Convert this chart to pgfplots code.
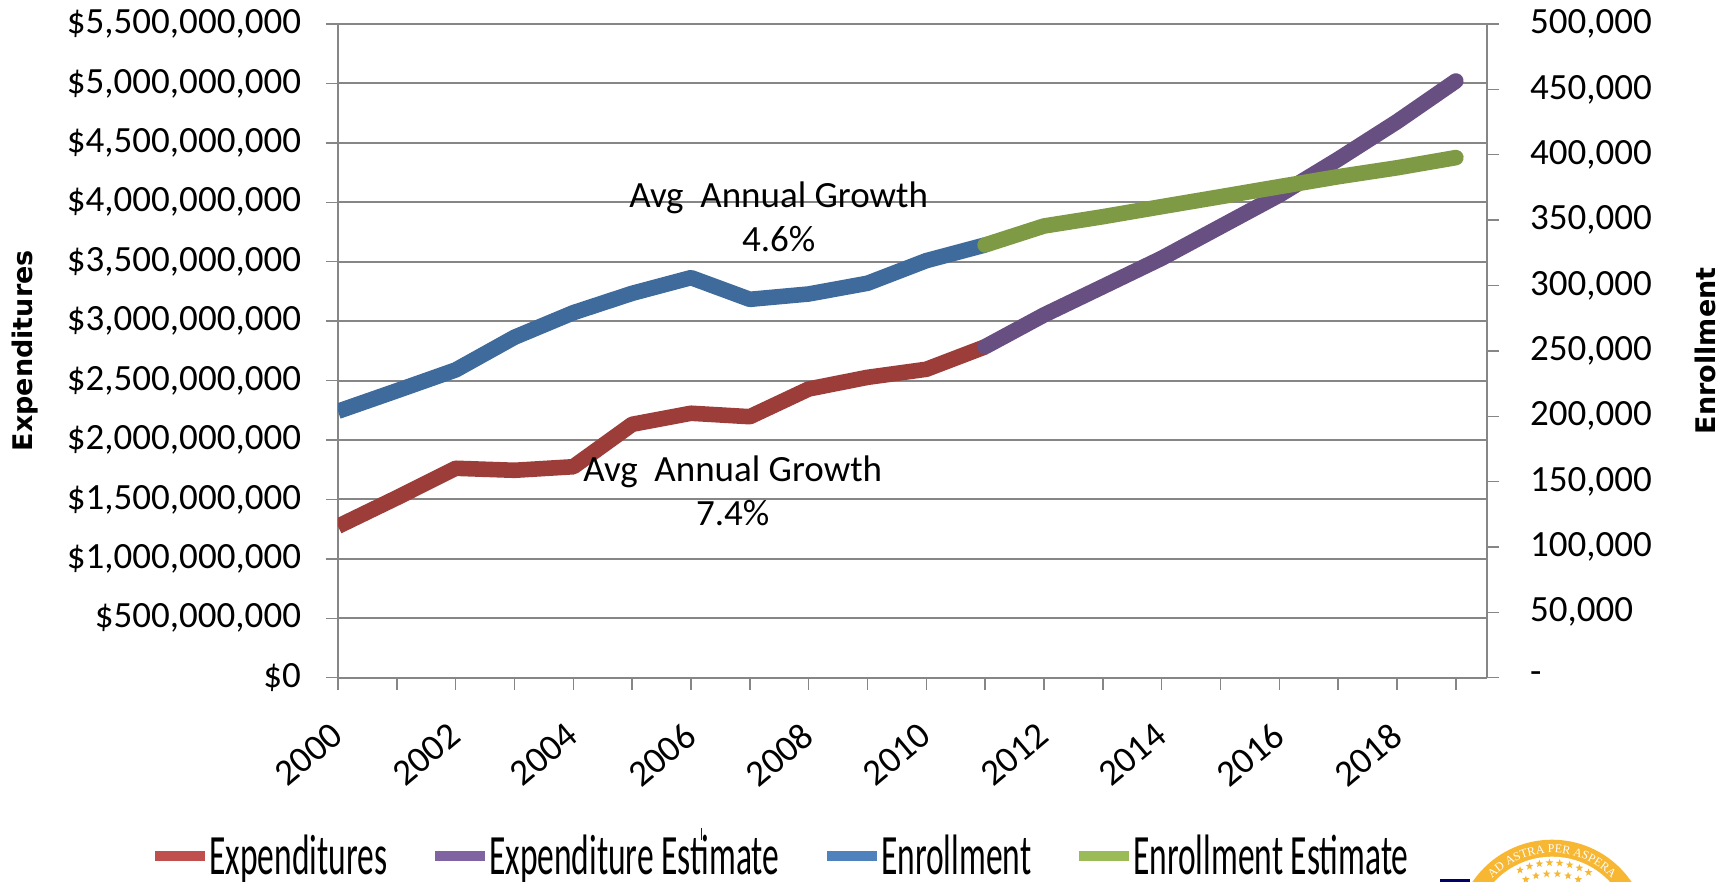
\documentclass[border=0pt]{standalone}
\usepackage{pgfplots}
\pgfplotsset{compat=1.18}
\usepackage{fontspec}
\setmainfont{Carlito}
\newfontfamily\titlefont{DejaVu Sans}
\newfontfamily\legendfont[FakeStretch=0.588]{Carlito}
\newfontfamily\sealfont{Liberation Serif}
\usetikzlibrary{decorations.text,shapes.geometric}

\definecolor{exp}{HTML}{9C3D3A}
\definecolor{expest}{HTML}{684F82}
\definecolor{enr}{HTML}{3E6A9C}
\definecolor{enrest}{HTML}{7F9A45}
\definecolor{lexp}{HTML}{C0504D}
\definecolor{lexpest}{HTML}{8064A2}
\definecolor{lenr}{HTML}{4F81BD}
\definecolor{lenrest}{HTML}{9BBB59}
\definecolor{gridgray}{HTML}{868686}
\definecolor{sealgold}{HTML}{F7B733}

\pgfplotsset{
  common/.style={
    width=574.5pt, height=326.85pt, scale only axis,
    at={(0pt,0pt)}, anchor=south west,
    xmin=0, xmax=19.53,
    tick label style={font=\fontsize{18.5}{20}\selectfont},
    /pgf/number format/assume math mode=true,
    axis line style={gridgray, line width=0.7pt},
    tick style={gridgray, line width=0.7pt},
    major tick length=6pt,
    tick align=outside,
  },
  ser/.style={line width=7.8pt, line join=round},
}

\begin{document}
\begin{tikzpicture}
\path[use as bounding box] (-169pt,-102.15pt) rectangle (697pt,338.85pt);

\begin{axis}[common,
  axis y line*=left, axis x line*=bottom,
  ymin=0, ymax=5500000000,
  ytick={0,500000000,1000000000,1500000000,2000000000,2500000000,3000000000,3500000000,4000000000,4500000000,5000000000,5500000000},
  yticklabels={{\$0},{\$500,000,000},{\$1,000,000,000},{\$1,500,000,000},{\$2,000,000,000},{\$2,500,000,000},{\$3,000,000,000},{\$3,500,000,000},{\$4,000,000,000},{\$4,500,000,000},{\$5,000,000,000},{\$5,500,000,000}},
  scaled y ticks=false,
  yticklabel style={xshift=-9pt},
  ymajorgrids,
  grid style={gridgray, line width=1pt},
  xtick={0,1,...,19},
  xticklabels={2000,,2002,,2004,,2006,,2008,,2010,,2012,,2014,,2016,,2018,},
  xticklabel style={rotate=40, anchor=north east, xshift=-9.9pt, yshift=-5.8pt},
  ylabel={\titlefont\bfseries\fontsize{13.5}{15}\selectfont Expenditures},
  ylabel style={at={(axis description cs:-0.2724,0.5)}, anchor=center},
]
\addplot[ser, exp, line cap=butt] coordinates {
  (0,1274000000) (1,1514000000) (2,1762000000) (3,1745000000) (4,1775000000)
  (5,2132000000) (6,2225000000) (7,2196000000) (8,2429000000) (9,2527000000)
  (10,2595000000) (11,2784000000)};
\addplot[ser, expest, line cap=round] coordinates {
  (11,2785000000) (12,3052000000) (13,3290000000) (14,3529000000) (15,3795000000)
  (16,4061000000) (17,4362000000) (18,4678000000) (19,5020000000)};
\node[font=\fontsize{18.5}{22}\selectfont, align=center] at (axis cs:7.49,3874000000)
  {Avg\ \ Annual Growth\\[0pt]4.6\%};
\node[font=\fontsize{18.5}{22}\selectfont, align=center] at (axis cs:6.71,1570000000)
  {Avg\ \ Annual Growth\\[0pt]7.4\%};
\end{axis}

\begin{axis}[common,
  axis y line*=right, axis x line=none,
  ymin=0, ymax=500000,
  ytick={0,50000,...,500000},
  yticklabels={-,{50,000},{100,000},{150,000},{200,000},{250,000},{300,000},{350,000},{400,000},{450,000},{500,000}},
  scaled y ticks=false,
  yticklabel style={xshift=12pt},
  ylabel={\titlefont\bfseries\fontsize{13.5}{15}\selectfont Enrollment},
  ylabel style={at={(axis description cs:1.1897,0.5)}, anchor=center},
  legend columns=4,
  legend style={draw=none, fill=none, at={(-97pt,-104pt)}, anchor=south west,
    font=\legendfont\fontsize{28.5}{30}\selectfont,
    /tikz/every odd column/.style={column sep=-2.5pt},
    /tikz/every even column/.style={column sep=19.4pt}},
  legend cell align=left,
  legend image code/.code={\draw[#1, line width=5pt] (0pt,0pt) -- (25pt,0pt);},
]
\addplot[ser, enr, line cap=butt, forget plot] coordinates {
  (0,203800) (1,219500) (2,235400) (3,260400) (4,279200) (5,294000)
  (6,306000) (7,289400) (8,293500) (9,301700) (10,319000) (11,331000)};
\addplot[ser, enrest, line cap=round, forget plot] coordinates {
  (11,331000) (12,345500) (13,352600) (14,360300) (15,367900)
  (16,375600) (17,383200) (18,390000) (19,397800)};
\addlegendimage{lexp}\addlegendentry{Expenditures}
\addlegendimage{lexpest}\addlegendentry{Expenditure Estimate}
\addlegendimage{lenr}\addlegendentry{Enrollment}
\addlegendimage{lenrest}\addlegendentry{Enrollment Estimate}
\end{axis}

% stray blue speck above the legend text, as in the scan
\draw[blue, line width=0.8pt] (181.7pt,-75pt) -- (181.7pt,-81pt);

% seal and logo, cut off by the page edge
\fill[blue!40!black] (551pt,-100.5pt) rectangle (566pt,-103pt);
\begin{scope}[shift={(607pt,-129pt)}]
  \fill[sealgold] (0,0) circle (48pt);
  \fill[white] (0,0) circle (39.5pt);
  \path[decorate, decoration={text along path, text align=center,
      text={|\sealfont\fontsize{6}{7}\selectfont\color{white}|AD ASTRA PER ASPERA}}]
    (150:41.5pt) arc (150:30:41.5pt);
  \foreach \a in {60,68,...,120}
    \node[star, star points=5, star point ratio=2.4, fill=sealgold, inner sep=0pt, minimum size=4pt] at (\a:36.5pt) {};
  \foreach \a in {65,75,...,115}
    \node[star, star points=5, star point ratio=2.4, fill=sealgold, inner sep=0pt, minimum size=4pt] at (\a:31pt) {};
\end{scope}
\end{tikzpicture}
\end{document}
